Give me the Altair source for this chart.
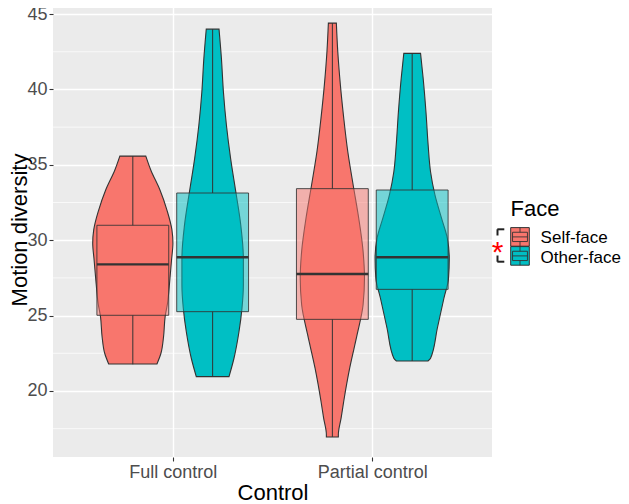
import altair as alt
import pandas as pd

controls = ["Full control", "Partial control"]
faces = ["Self-face", "Other-face"]
face_colors = ["#F8766D", "#00BFC4"]

# Violin outlines: y values and half-widths (x-axis units)
fs_y = [35.58, 34.66, 33.33, 32.0, 30.68, 29.79, 28.69, 27.14, 25.82, 24.93, 23.60, 22.50, 21.79]
fs_w = [0.065, 0.090, 0.136, 0.171, 0.196, 0.201, 0.194, 0.184, 0.174, 0.162, 0.154, 0.141, 0.121]
fo_y = [44.0, 42.06, 39.85, 37.64, 35.43, 33.22, 31.0, 28.80, 27.03, 25.48, 23.93, 22.17, 20.95]
fo_w = [0.032, 0.044, 0.054, 0.069, 0.090, 0.116, 0.141, 0.154, 0.154, 0.147, 0.132, 0.107, 0.082]
ps_y = [44.40, 42.53, 40.32, 38.10, 35.90, 33.68, 31.47, 29.26, 27.49, 25.72, 23.73, 21.53, 19.32, 18.21, 17.10, 16.95]
ps_w = [0.020, 0.027, 0.040, 0.057, 0.077, 0.104, 0.132, 0.154, 0.161, 0.154, 0.124, 0.087, 0.057, 0.044, 0.030, 0.030]
po_y = [42.39, 40.74, 38.52, 36.31, 34.54, 33.0, 31.46, 30.13, 28.80, 27.47, 26.15, 24.16, 22.17, 21.99]
po_w = [0.042, 0.055, 0.069, 0.080, 0.092, 0.114, 0.147, 0.176, 0.186, 0.182, 0.159, 0.126, 0.092, 0.079]

# Box statistics per group (Full/Self, Full/Other, Partial/Self, Partial/Other)
grp_control = ["Full control", "Full control", "Partial control", "Partial control"]
grp_face = ["Self-face", "Other-face", "Self-face", "Other-face"]
box_min = [21.77, 20.95, 16.95, 21.99]
box_q1 = [25.02, 25.26, 24.75, 26.74]
box_med = [28.40, 28.87, 27.76, 28.87]
box_q3 = [30.99, 33.13, 33.42, 33.33]
box_max = [35.58, 44.00, 44.40, 42.39]

y_major = [20, 25, 30, 35, 40, 45]
y_minor = [17.5, 22.5, 27.5, 32.5, 37.5, 42.5]

legend_title = "Face"

# layout helpers (dodge positions)
ctrl_pos = {"Full control": 1, "Partial control": 2}
dodge = {"Self-face": -0.2, "Other-face": 0.2}
box_half = 0.18

profiles = [(fs_y, fs_w), (fo_y, fo_w), (ps_y, ps_w), (po_y, po_w)]

color_scale = alt.Scale(domain=faces, range=face_colors)
xs = alt.Scale(domain=[0.4, 2.6], nice=False, zero=False)
ys = alt.Scale(domain=[15.62, 45.8], nice=False, zero=False)

label_expr = "datum.value == 1 ? 'Full control' : 'Partial control'"

x_axis = alt.Axis(values=[1, 2], labelExpr=label_expr, title="Control",
                  grid=True, gridColor="white", gridWidth=1.4,
                  domain=False, tickColor="#333333", tickSize=4, tickWidth=1.1,
                  labelFont="Liberation Sans", labelFontSize=18, labelColor="#4D4D4D",
                  labelPadding=2,
                  titleFont="Liberation Sans", titleFontSize=22, titleColor="black",
                  titleFontWeight="normal", titleY=42, titleBaseline="alphabetic")
y_axis = alt.Axis(values=y_major, title="Motion diversity",
                  grid=True, gridColor="white", gridWidth=1.4,
                  domain=False, tickColor="#333333", tickSize=4, tickWidth=1.1,
                  labelFont="Liberation Sans", labelFontSize=18, labelColor="#4D4D4D",
                  labelPadding=2,
                  titleFont="Liberation Sans", titleFontSize=22, titleColor="black",
                  titleFontWeight="normal", titleX=-27, titleY=227.5, titleAngle=270,
                  titleAlign="center", titleBaseline="alphabetic")

minor = alt.Chart(pd.DataFrame({"v": y_minor})).mark_rule(
    color="white", strokeWidth=0.7).encode(
    y=alt.Y("v:Q", scale=ys, axis=y_axis),
    x=alt.value(0), x2=alt.value(439))

violins = []
for gi, (yv, wv) in enumerate(profiles):
    c = ctrl_pos[grp_control[gi]] + dodge[grp_face[gi]]
    df = pd.DataFrame({"y": yv, "xl": [c - w for w in wv], "xr": [c + w for w in wv],
                       "face": grp_face[gi]})
    violins.append(alt.Chart(df).mark_area(
        orient="horizontal", interpolate="monotone", stroke="#333333",
        strokeWidth=1.1, opacity=1).encode(
        y=alt.Y("y:Q", scale=ys, axis=y_axis),
        x=alt.X("xl:Q", scale=xs, axis=x_axis),
        x2="xr:Q",
        color=alt.Color("face:N", scale=color_scale, legend=None),
    ))

brows = []
for gi in range(4):
    c = ctrl_pos[grp_control[gi]] + dodge[grp_face[gi]]
    brows.append({"face": grp_face[gi], "c": c, "bl": c - box_half, "br": c + box_half,
                  "mn": box_min[gi], "q1": box_q1[gi], "med": box_med[gi],
                  "q3": box_q3[gi], "mx": box_max[gi]})
bdf = pd.DataFrame(brows)

boxes = alt.Chart(bdf).mark_bar(
    fillOpacity=0.5, stroke="#333333", strokeWidth=1, strokeOpacity=0.85).encode(
    x=alt.X("bl:Q", scale=xs, axis=x_axis), x2="br:Q",
    y=alt.Y("q1:Q", scale=ys, axis=y_axis), y2="q3:Q",
    color=alt.Color("face:N", scale=color_scale, legend=None))

whisk_hi = alt.Chart(bdf).mark_rule(color="#333333", strokeWidth=1).encode(
    x=alt.X("c:Q", scale=xs, axis=x_axis), y=alt.Y("q3:Q", scale=ys, axis=y_axis), y2="mx:Q")
whisk_lo = alt.Chart(bdf).mark_rule(color="#333333", strokeWidth=1).encode(
    x=alt.X("c:Q", scale=xs, axis=x_axis), y=alt.Y("mn:Q", scale=ys, axis=y_axis), y2="q1:Q")
median = alt.Chart(bdf).mark_rule(color="#333333", strokeWidth=2.4).encode(
    x=alt.X("bl:Q", scale=xs, axis=x_axis), x2="br:Q", y=alt.Y("med:Q", scale=ys, axis=y_axis))

# ---- legend drawn in pixel space to the right of the panel ----
kx0, ks = 457.7, 18.6          # key left edge and key size (px)
key_tops = [225.6, 244.6]      # key top edges (px)
label_x, label_base = 487.6, [241.3, 261.0]

keydf = pd.DataFrame({"face": faces, "kx": [kx0] * 2, "kx2": [kx0 + ks] * 2,
                      "ky": key_tops, "ky2": [t + ks for t in key_tops],
                      "lx": [label_x] * 2, "ly": label_base})
keys = alt.Chart(keydf).mark_rect(stroke="#333333", strokeWidth=1).encode(
    x=alt.X("kx:Q", scale=None), x2="kx2:Q", y=alt.Y("ky:Q", scale=None), y2="ky2:Q",
    color=alt.Color("face:N", scale=color_scale, legend=None))
key_labels = alt.Chart(keydf).mark_text(
    align="left", baseline="alphabetic", font="Liberation Sans", fontSize=17,
    color="black").encode(x=alt.X("lx:Q", scale=None), y=alt.Y("ly:Q", scale=None),
                          text="face:N")
title_txt = alt.Chart(pd.DataFrame({"t": [legend_title]})).mark_text(
    align="left", baseline="alphabetic", font="Liberation Sans", fontSize=22,
    color="black").encode(x=alt.value(457.6), y=alt.value(213.8), text="t:N")

seg = []
for kt in key_tops:
    for f in (0.25, 0.5, 0.75):
        seg.append((kx0 + 0.1 * ks, kx0 + 0.9 * ks, kt + f * ks, kt + f * ks))
    for f in (0.1, 0.9):
        seg.append((kx0 + f * ks, kx0 + f * ks, kt + 0.25 * ks, kt + 0.75 * ks))
    seg.append((kx0 + 0.5 * ks, kx0 + 0.5 * ks, kt, kt + 0.25 * ks))
    seg.append((kx0 + 0.5 * ks, kx0 + 0.5 * ks, kt + 0.75 * ks, kt + ks))
segdf = pd.DataFrame(seg, columns=["sx", "sx2", "sy", "sy2"])
keyglyph = alt.Chart(segdf).mark_rule(color="#333333", strokeWidth=0.9).encode(
    x=alt.X("sx:Q", scale=None), x2="sx2:Q", y=alt.Y("sy:Q", scale=None), y2="sy2:Q")

# significance annotation: bracket and asterisk beside the legend
brk = pd.DataFrame({"d": [0]})
b1 = alt.Chart(brk).mark_rule(color="#222222", strokeWidth=2).encode(
    x=alt.value(444.3), x2=alt.value(451.3), y=alt.value(227.3))
b2 = alt.Chart(brk).mark_rule(color="#222222", strokeWidth=2).encode(
    x=alt.value(444.5), y=alt.value(227.3), y2=alt.value(233.5))
b3 = alt.Chart(brk).mark_rule(color="#222222", strokeWidth=2).encode(
    x=alt.value(444.5), y=alt.value(253.5), y2=alt.value(259.7))
b4 = alt.Chart(brk).mark_rule(color="#222222", strokeWidth=2).encode(
    x=alt.value(444.3), x2=alt.value(451.3), y=alt.value(259.7))
star = alt.Chart(pd.DataFrame({"t": ["*"]})).mark_text(
    color="#FF0000", fontSize=30, font="Liberation Sans", align="center",
    baseline="alphabetic").encode(x=alt.value(444.7), y=alt.value(259.5), text="t:N")

chart = alt.layer(minor, *violins, boxes, whisk_hi, whisk_lo, median,
                  keys, keyglyph, key_labels, title_txt,
                  b1, b2, b3, b4, star).properties(
    width=439, height=455, background="white",
    autosize=alt.AutoSizeParams(type="none"),
    padding={"left": 45, "top": -6, "right": 129, "bottom": 47},
).configure_view(fill="#EBEBEB", stroke=None)

chart.save("out.html", embed_options={"renderer": "svg", "actions": False})
